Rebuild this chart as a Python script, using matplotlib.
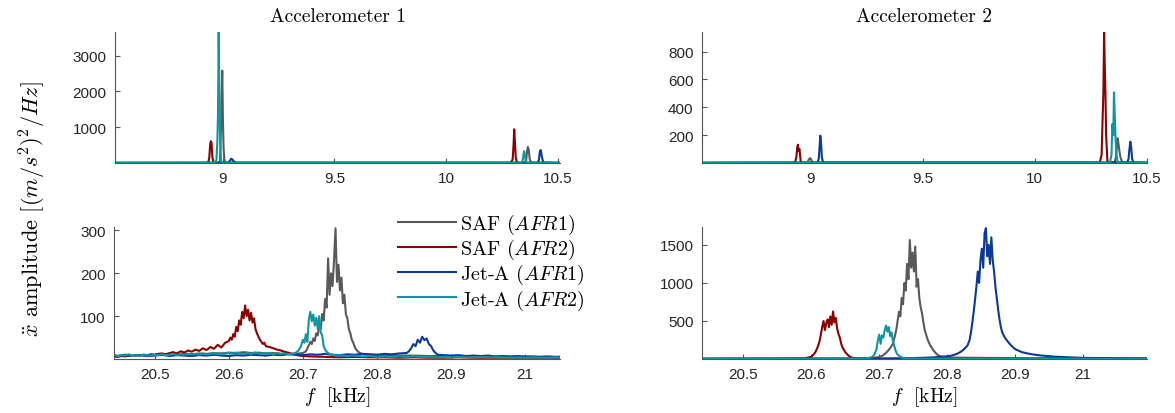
import matplotlib
matplotlib.use("Agg")
import matplotlib.pyplot as plt

plt.rcParams['font.family'] = ['Liberation Sans', 'DejaVu Sans']
plt.rcParams['mathtext.fontset'] = 'cm'
plt.rcParams['axes.unicode_minus'] = False

# ---------------------------------------------------------------- series
series_labels = ['SAF ($AFR1$)', 'SAF ($AFR2$)', 'Jet-A ($AFR1$)', 'Jet-A ($AFR2$)']
series_colors = ['#595959', '#8c0000', '#0a3a99', '#0f96a0']

panel_titles = ['Accelerometer 1', 'Accelerometer 2']
x_label = '$f$  [kHz]'
y_label = r'$\ddot{x}$ amplitude $[(m/s^2)^2/Hz]$'

# ---------------------------------------------------------------- low band, accelerometer 1 (kHz, amplitude)
lo1_f_saf1 = [8.515, 8.98, 8.988, 8.992, 8.995, 8.998, 9.001, 9.004, 9.008, 9.015,
              10.35, 10.358, 10.362, 10.366, 10.37, 10.374, 10.38, 10.51]
lo1_a_saf1 = [3, 5, 60, 900, 1800, 2580, 1200, 400, 60, 5,
              5, 40, 300, 450, 380, 120, 10, 3]
lo1_f_saf2 = [8.515, 8.935, 8.94, 8.944, 8.947, 8.95, 8.954, 8.96,
              10.29, 10.298, 10.302, 10.305, 10.308, 10.312, 10.318, 10.51]
lo1_a_saf2 = [3, 5, 150, 520, 610, 560, 150, 5,
              5, 100, 500, 940, 600, 150, 5, 3]
lo1_f_jet1 = [8.515, 9.025, 9.032, 9.038, 9.043, 9.05, 9.06,
              10.41, 10.416, 10.42, 10.424, 10.428, 10.435, 10.51]
lo1_a_jet1 = [3, 5, 60, 120, 100, 40, 5,
              5, 100, 330, 360, 200, 10, 3]
lo1_f_jet2 = [8.515, 8.965, 8.972, 8.976, 8.979, 8.982, 8.985, 8.988, 8.992, 9.0,
              10.335, 10.342, 10.346, 10.349, 10.352, 10.356, 10.362, 10.51]
lo1_a_jet2 = [3, 5, 80, 600, 1400, 3660, 2000, 700, 60, 5,
              5, 40, 200, 330, 250, 60, 5, 3]

# ---------------------------------------------------------------- low band, accelerometer 2
lo2_f_saf1 = [8.515, 8.985, 8.99, 8.994, 8.998, 9.002, 9.008,
              10.355, 10.362, 10.366, 10.369, 10.372, 10.376, 10.382, 10.39, 10.51]
lo2_a_saf1 = [1, 2, 20, 30, 34, 25, 2,
              2, 40, 120, 177, 150, 100, 40, 5, 1]
lo2_f_saf2 = [8.515, 8.93, 8.936, 8.94, 8.943, 8.946, 8.95, 8.956,
              10.29, 10.298, 10.302, 10.306, 10.309, 10.312, 10.315, 10.318, 10.324, 10.51]
lo2_a_saf2 = [1, 2, 40, 110, 131, 85, 100, 3,
              3, 60, 300, 520, 938, 700, 500, 200, 5, 1]
lo2_f_jet1 = [8.515, 9.03, 9.036, 9.04, 9.043, 9.046, 9.05, 9.056,
              10.412, 10.418, 10.422, 10.426, 10.43, 10.434, 10.44, 10.51]
lo2_a_jet1 = [1, 2, 30, 120, 196, 150, 40, 2,
              2, 30, 100, 153, 110, 30, 3, 1]
lo2_f_jet2 = [8.515, 8.98, 8.99, 9.0,
              10.335, 10.342, 10.346, 10.35, 10.353, 10.356, 10.36, 10.364, 10.37, 10.51]
lo2_a_jet2 = [1, 2, 8, 2,
              2, 60, 280, 200, 507, 370, 180, 60, 3, 1]

# ---------------------------------------------------------------- high band, accelerometer 1
hi1_f_saf1 = [20.44, 20.45, 20.46, 20.47, 20.48, 20.49, 20.50, 20.51, 20.52, 20.53,
              20.54, 20.55, 20.56, 20.57, 20.58, 20.59, 20.60, 20.61, 20.62, 20.63,
              20.64, 20.65, 20.66, 20.67, 20.68, 20.69, 20.70,
              20.704, 20.706, 20.708, 20.710, 20.712, 20.714, 20.716, 20.718, 20.720, 20.722,
              20.724, 20.726, 20.728, 20.730, 20.732, 20.734, 20.736, 20.738, 20.740, 20.742,
              20.744, 20.746, 20.748, 20.750, 20.752, 20.754, 20.756, 20.758, 20.760, 20.762,
              20.764, 20.766, 20.768, 20.770, 20.772, 20.774, 20.776, 20.778, 20.780,
              20.79, 20.81, 20.83, 20.85, 20.87, 20.89, 20.91, 20.93, 20.95, 20.97,
              20.99, 21.01, 21.03, 21.05]
hi1_a_saf1 = [6, 7, 8, 7, 9, 8, 10, 9, 11, 10,
              12, 11, 13, 12, 14, 13, 15, 14, 16, 14,
              15, 13, 14, 12, 13, 12, 14,
              18, 25, 32, 40, 35, 48, 42, 60, 55, 80,
              70, 105, 90, 140, 120, 235, 150, 200, 170, 230,
              305, 180, 220, 160, 190, 130, 150, 105, 95, 70,
              60, 45, 38, 28, 22, 18, 15, 13, 12,
              10, 9, 8, 8, 7, 7, 6, 6, 6, 5,
              5, 5, 5, 5]

hi1_f_saf2 = [20.44, 20.445, 20.45, 20.455, 20.46, 20.465, 20.47, 20.475, 20.48, 20.485,
              20.49, 20.495, 20.50, 20.505, 20.51, 20.515, 20.52, 20.525, 20.53, 20.535,
              20.54, 20.545, 20.55, 20.555, 20.56, 20.565, 20.57, 20.575, 20.58, 20.585,
              20.59, 20.595, 20.60,
              20.602, 20.604, 20.606, 20.608, 20.610, 20.612, 20.614, 20.616, 20.618, 20.620,
              20.622, 20.624, 20.626, 20.628, 20.630, 20.632, 20.634, 20.636, 20.638, 20.640,
              20.642, 20.644, 20.646, 20.648, 20.650,
              20.655, 20.66, 20.665, 20.67, 20.675, 20.68, 20.685, 20.69, 20.695, 20.70,
              20.71, 20.73, 20.75, 20.77, 20.79, 20.81, 20.83, 20.85, 20.87, 20.89,
              20.91, 20.93, 20.95, 20.97, 20.99, 21.01, 21.03, 21.05]
hi1_a_saf2 = [5, 6, 5, 7, 6, 8, 7, 9, 8, 10,
              9, 11, 10, 12, 13, 11, 14, 16, 13, 18,
              15, 20, 17, 22, 19, 25, 21, 28, 24, 33,
              27, 38, 42,
              50, 45, 58, 52, 75, 65, 90, 80, 110, 95,
              125, 100, 115, 90, 108, 85, 95, 70, 60, 52,
              45, 40, 35, 38, 30,
              28, 25, 22, 20, 17, 15, 12, 10, 8, 7,
              6, 5, 4, 5, 4, 4, 3, 4, 3, 3,
              4, 3, 3, 3, 3, 3, 3, 3]

hi1_f_jet1 = [20.44, 20.45, 20.46, 20.47, 20.48, 20.49, 20.50, 20.51, 20.52, 20.53,
              20.54, 20.55, 20.56, 20.57, 20.58, 20.59, 20.60, 20.61, 20.62, 20.63,
              20.64, 20.65, 20.66, 20.67, 20.68, 20.69, 20.70, 20.71, 20.72, 20.73,
              20.74, 20.75, 20.76, 20.77, 20.78, 20.79, 20.80, 20.81, 20.82, 20.83, 20.84,
              20.843, 20.846, 20.849, 20.852, 20.855, 20.858, 20.861, 20.864, 20.867, 20.870,
              20.873, 20.876, 20.879, 20.882,
              20.89, 20.90, 20.91, 20.92, 20.93, 20.94, 20.95, 20.96, 20.97, 20.98,
              20.99, 21.00, 21.01, 21.02, 21.03, 21.04, 21.05]
hi1_a_jet1 = [9, 7, 10, 8, 9, 7, 8, 10, 7, 9,
              8, 7, 9, 8, 10, 8, 7, 9, 8, 10,
              9, 8, 10, 9, 11, 10, 9, 11, 10, 12,
              10, 9, 11, 10, 12, 11, 10, 12, 11, 13, 14,
              18, 25, 35, 30, 45, 38, 52, 44, 48, 35,
              30, 20, 14, 10,
              9, 8, 9, 7, 8, 7, 8, 6, 7, 6,
              7, 6, 6, 5, 6, 5, 5]

hi1_f_jet2 = [20.44, 20.445, 20.45, 20.455, 20.46, 20.465, 20.47, 20.475, 20.48, 20.485,
              20.49, 20.495, 20.50, 20.505, 20.51, 20.515, 20.52, 20.525, 20.53, 20.535,
              20.54, 20.545, 20.55, 20.555, 20.56, 20.565, 20.57, 20.575, 20.58, 20.585,
              20.59, 20.595, 20.60, 20.605, 20.61, 20.615, 20.62, 20.625, 20.63, 20.635,
              20.64, 20.645, 20.65, 20.655, 20.66, 20.665, 20.67, 20.675, 20.68, 20.685,
              20.69, 20.694, 20.697, 20.700, 20.702, 20.704, 20.706, 20.708, 20.710, 20.712,
              20.714, 20.716, 20.718, 20.720, 20.722, 20.724, 20.726, 20.728, 20.730, 20.733,
              20.736, 20.74, 20.745, 20.75, 20.76, 20.77, 20.78, 20.79, 20.80, 20.81,
              20.82, 20.83, 20.84, 20.85, 20.86, 20.87, 20.88, 20.89, 20.90, 20.91,
              20.92, 20.93, 20.94, 20.95, 20.96, 20.97, 20.98, 20.99, 21.00, 21.01,
              21.02, 21.03, 21.04, 21.05]
hi1_a_jet2 = [8, 10, 7, 9, 8, 11, 7, 9, 8, 10,
              9, 8, 10, 9, 11, 9, 10, 12, 9, 11,
              10, 12, 11, 12, 10, 13, 11, 12, 14, 11,
              13, 12, 14, 12, 15, 13, 11, 14, 12, 15,
              13, 12, 14, 13, 11, 14, 12, 13, 11, 12,
              14, 20, 28, 45, 38, 58, 40, 92, 110, 88,
              104, 78, 96, 70, 100, 62, 55, 30, 22, 15,
              12, 10, 8, 9, 7, 8, 6, 7, 5, 6,
              5, 6, 5, 6, 5, 5, 4, 5, 4, 5,
              4, 4, 5, 4, 4, 4, 3, 4, 3, 4,
              3, 3, 4, 3]

# ---------------------------------------------------------------- high band, accelerometer 2
hi2_f_saf1 = [20.44, 20.55, 20.65, 20.68, 20.69, 20.70, 20.705, 20.71, 20.715, 20.72,
              20.723, 20.725, 20.727, 20.729, 20.731, 20.733, 20.735, 20.737, 20.739, 20.741,
              20.743, 20.745, 20.747, 20.749, 20.751, 20.753, 20.755, 20.757, 20.759, 20.761,
              20.763, 20.765, 20.767, 20.769, 20.771,
              20.775, 20.78, 20.785, 20.79, 20.80, 20.85, 20.9, 21.0, 21.1]
hi2_a_saf1 = [5, 6, 8, 10, 15, 25, 45, 80, 130, 200,
              300, 380, 500, 620, 560, 800, 720, 1000, 900, 1250,
              1050, 1564, 1200, 1400, 1150, 1480, 950, 1050, 800, 680,
              600, 480, 380, 320, 260,
              180, 110, 60, 35, 20, 15, 12, 10, 8]

hi2_f_saf2 = [20.44, 20.5, 20.55, 20.58, 20.59, 20.595, 20.600, 20.603, 20.606, 20.609,
              20.612, 20.614, 20.616, 20.618, 20.620, 20.622, 20.624, 20.626, 20.628, 20.630,
              20.632, 20.634, 20.636, 20.638, 20.640, 20.642, 20.644, 20.646,
              20.65, 20.654, 20.658, 20.662, 20.67, 20.7, 20.8, 21.0, 21.1]
hi2_a_saf2 = [2, 3, 4, 6, 10, 18, 30, 55, 90, 150,
              230, 320, 420, 500, 380, 470, 520, 420, 560, 450,
              625, 480, 540, 400, 330, 280, 200, 150,
              90, 50, 25, 12, 6, 3, 3, 2, 2]

hi2_f_jet1 = [20.44, 20.6, 20.7, 20.75, 20.77, 20.78, 20.79, 20.80, 20.805, 20.81,
              20.815, 20.82, 20.825, 20.83,
              20.833, 20.835, 20.837, 20.839, 20.841, 20.843, 20.845, 20.847, 20.849, 20.851,
              20.853, 20.855, 20.857, 20.859, 20.861, 20.863, 20.865, 20.867, 20.869, 20.871,
              20.873, 20.875, 20.877, 20.879, 20.881,
              20.885, 20.89, 20.895, 20.9, 20.905, 20.91, 20.92, 20.93, 20.94, 20.96,
              20.98, 21.0, 21.05, 21.1]
hi2_a_jet1 = [3, 4, 6, 12, 18, 22, 28, 35, 42, 55,
              70, 95, 130, 180,
              250, 350, 480, 620, 780, 950, 1150, 1000, 1300, 1450,
              1200, 1650, 1720, 1350, 1500, 1250, 1600, 1300, 1150, 950,
              800, 650, 520, 420, 350,
              280, 220, 170, 130, 110, 90, 70, 55, 45, 30,
              22, 15, 10, 8]

hi2_f_jet2 = [20.44, 20.55, 20.65, 20.68, 20.685, 20.69, 20.693,
              20.696, 20.698, 20.700, 20.702, 20.704, 20.706, 20.708, 20.710, 20.712, 20.714,
              20.716, 20.718, 20.720, 20.722, 20.724, 20.726,
              20.73, 20.735, 20.74, 20.76, 20.8, 21.0, 21.1]
hi2_a_jet2 = [3, 4, 5, 8, 15, 30, 60,
              130, 250, 320, 200, 310, 280, 380, 440, 360, 420,
              300, 350, 240, 180, 110, 70,
              35, 15, 8, 5, 4, 3, 3]

# ---------------------------------------------------------------- axes settings
lo_xticks = [9, 9.5, 10, 10.5]
lo_xticklabels = ['9', '9.5', '10', '10.5']
hi_xticks = [20.5, 20.6, 20.7, 20.8, 20.9, 21]
hi_xticklabels = ['20.5', '20.6', '20.7', '20.8', '20.9', '21']

panels = [
    # (position, data, xlim, ylim, yticks, xticks, xticklabels)
    ([0.0979, 0.6039, 0.3787, 0.3164],
     [(lo1_f_saf1, lo1_a_saf1), (lo1_f_saf2, lo1_a_saf2), (lo1_f_jet1, lo1_a_jet1), (lo1_f_jet2, lo1_a_jet2)],
     (8.518, 10.51), (0, 3660), [1000, 2000, 3000], lo_xticks, lo_xticklabels),
    ([0.5974, 0.6039, 0.3787, 0.3164],
     [(lo2_f_saf1, lo2_a_saf1), (lo2_f_saf2, lo2_a_saf2), (lo2_f_jet1, lo2_a_jet1), (lo2_f_jet2, lo2_a_jet2)],
     (8.515, 10.5), (0, 940), [200, 400, 600, 800], lo_xticks, lo_xticklabels),
    ([0.0970, 0.1304, 0.3796, 0.3188],
     [(hi1_f_saf1, hi1_a_saf1), (hi1_f_saf2, hi1_a_saf2), (hi1_f_jet1, hi1_a_jet1), (hi1_f_jet2, hi1_a_jet2)],
     (20.445, 21.047), (0, 308), [100, 200, 300], hi_xticks, hi_xticklabels),
    ([0.5974, 0.1304, 0.3787, 0.3188],
     [(hi2_f_saf1, hi2_a_saf1), (hi2_f_saf2, hi2_a_saf2), (hi2_f_jet1, hi2_a_jet1), (hi2_f_jet2, hi2_a_jet2)],
     (20.439, 21.094), (0, 1735), [500, 1000, 1500], hi_xticks, hi_xticklabels),
]

serif = 'cmr10'

fig = plt.figure(figsize=(11.75, 4.14), dpi=100)
axes = []
for pos, data, xlim, ylim, yticks, xticks, xticklabels in panels:
    ax = fig.add_axes(pos)
    for (f, a), color, label in zip(data, series_colors, series_labels):
        ax.plot(f, a, color=color, lw=1.5, label=label)
    ax.set_xlim(*xlim)
    ax.set_ylim(*ylim)
    ax.set_yticks(yticks)
    ax.set_xticks(xticks)
    ax.set_xticklabels(xticklabels)
    for side in ('top', 'right'):
        ax.spines[side].set_visible(False)
    for side in ('left', 'bottom'):
        ax.spines[side].set_color('#555555')
        ax.spines[side].set_linewidth(0.8)
    ax.tick_params(direction='in', length=3.5, width=0.8, color='#555555',
                   labelsize=11, labelcolor='#262626', pad=6)
    axes.append(ax)

for ax, title in zip(axes[:2], panel_titles):
    ax.set_title(title, fontsize=14, family=serif, pad=8)

for ax in axes[2:]:
    ax.set_xlabel(x_label, fontsize=14, family=serif, labelpad=2)

fig.text(0.028, 0.495, y_label, rotation=90, ha='center', va='center',
         fontsize=16, family=serif)

axes[2].legend(loc='upper left', bbox_to_anchor=(398 / 1175, 1 - 213 / 414),
               bbox_transform=fig.transFigure, frameon=False,
               prop={'family': serif, 'size': 14.5},
               borderpad=0, borderaxespad=0, handlelength=2.9, handletextpad=0.2,
               labelspacing=0.05)

fig.savefig('out.png', dpi=100)
